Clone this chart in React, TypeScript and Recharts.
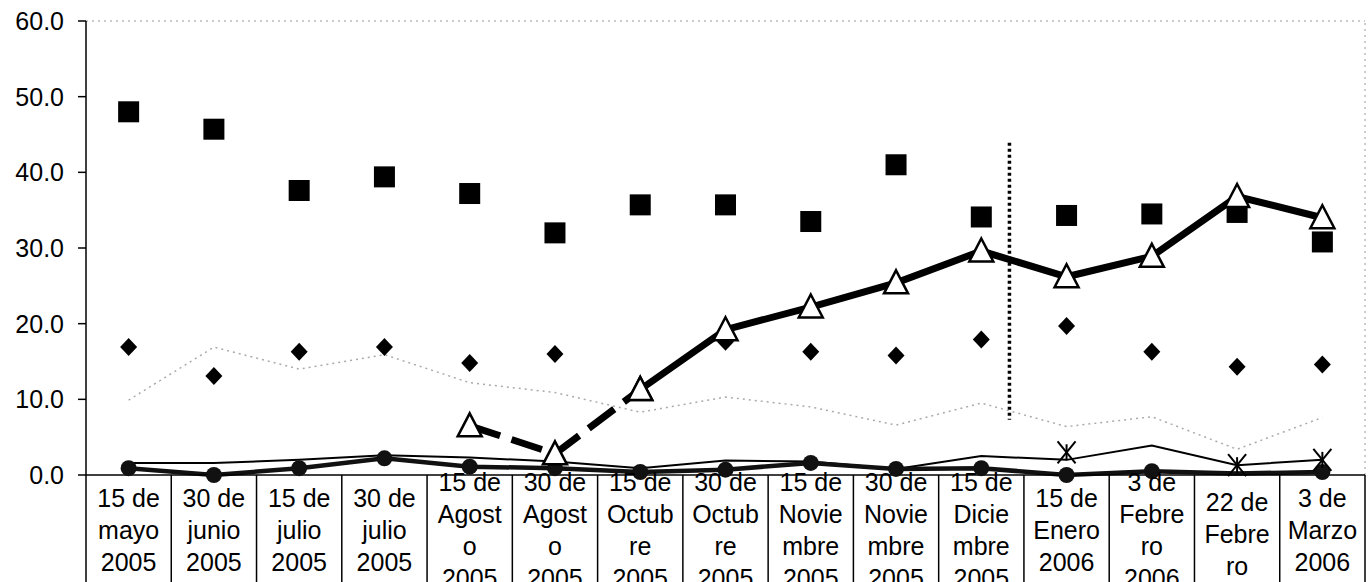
import React from "react";
import { LineChart, Line, XAxis, YAxis, ReferenceLine } from "recharts";

// tick labels, one entry per date (lines as printed in the cells)
const labels: string[][] = [
  ["15 de", "mayo", "2005"],
  ["30 de", "junio", "2005"],
  ["15 de", "julio", "2005"],
  ["30 de", "julio", "2005"],
  ["15 de", "Agost", "o", "2005"],
  ["30 de", "Agost", "o", "2005"],
  ["15 de", "Octub", "re", "2005"],
  ["30 de", "Octub", "re", "2005"],
  ["15 de", "Novie", "mbre", "2005"],
  ["30 de", "Novie", "mbre", "2005"],
  ["15 de", "Dicie", "mbre", "2005"],
  ["15 de", "Enero", "2006"],
  ["3 de", "Febre", "ro", "2006"],
  ["22 de", "Febre", "ro"],
  ["3 de", "Marzo", "2006"],
];

const squares = [48.0, 45.7, 37.6, 39.4, 37.2, 32.0, 35.7, 35.7, 33.5, 41.0, 34.1, 34.3, 34.5, 34.7, 30.8];
const diamonds = [16.9, 13.1, 16.3, 16.9, 14.8, 16.0, null, 17.6, 16.3, 15.8, 17.9, 19.7, 16.3, 14.3, 14.6];
const triangles = [null, null, null, null, 6.5, 2.8, 11.3, 19.2, 22.2, 25.4, 29.6, 26.2, 28.9, 36.8, 34.0];
const grayLine = [9.9, 16.9, 14.0, 15.9, 12.2, 10.9, 8.3, 10.3, 9.0, 6.6, 9.5, 6.4, 7.7, 3.4, 7.6];
const thinLine = [1.6, 1.6, 2.0, 2.6, 2.3, 1.8, 0.9, 1.9, 1.8, 0.8, 2.5, 2.0, 3.9, 1.3, 2.0];
const stars = [null, null, null, null, null, null, null, null, null, null, null, 3.0, null, 1.3, 2.0];
const circles = [0.9, 0.0, 0.9, 2.2, 1.1, 0.9, 0.4, 0.7, 1.6, 0.8, 0.9, 0.0, 0.5, 0.2, 0.4];
const circleNoMarker = [13];

// triangles drawn dashed up to this index, solid from it on
const dashedUntil = 6;
const yTicks = [0, 10, 20, 30, 40, 50, 60];
const divider = { x: 10.33, top: 43.9, bottom: 7.3 };

const data = labels.map((_, i) => ({
  i,
  sq: squares[i],
  di: diamonds[i],
  triDash: i <= dashedUntil ? triangles[i] : null,
  triSolid: i >= dashedUntil ? triangles[i] : null,
  gray: grayLine[i],
  thin: thinLine[i],
  star: stars[i],
  circ: circles[i],
}));

const W = 1370;
const H = 582;
const LEFT = 86;
const RIGHT = 5;
const AXIS_Y = 475;
const CELL = (W - LEFT - RIGHT) / labels.length;
const FONT = "'Liberation Sans', Arial, sans-serif";

const empty = (p: any) => p.cy == null || p.value == null || isNaN(p.cy);

const Square = (p: any) =>
  empty(p) ? <g key={p.key} /> : <rect key={p.key} x={p.cx - 10.5} y={p.cy - 10.5} width={21} height={21} fill="#000" />;

const Diamond = (p: any) =>
  empty(p) ? (
    <g key={p.key} />
  ) : (
    <polygon
      key={p.key}
      points={`${p.cx},${p.cy - 9} ${p.cx + 8.5},${p.cy} ${p.cx},${p.cy + 9} ${p.cx - 8.5},${p.cy}`}
      fill="#000"
    />
  );

const Triangle = (p: any) =>
  empty(p) ? (
    <g key={p.key} />
  ) : (
    <polygon
      key={p.key}
      points={`${p.cx},${p.cy - 12.5} ${p.cx + 12},${p.cy + 10.5} ${p.cx - 12},${p.cy + 10.5}`}
      fill="#fff"
      stroke="#000"
      strokeWidth={2.5}
    />
  );

const Circle = (p: any) =>
  empty(p) || circleNoMarker.includes(p.index) ? (
    <g key={p.key} />
  ) : (
    <circle key={p.key} cx={p.cx} cy={p.cy} r={8} fill="#111" />
  );

const Star = (p: any) =>
  empty(p) ? (
    <g key={p.key} />
  ) : (
    <g key={p.key} stroke="#000" strokeWidth={2}>
      <line x1={p.cx - 9} y1={p.cy - 11} x2={p.cx + 9} y2={p.cy + 11} />
      <line x1={p.cx + 9} y1={p.cy - 11} x2={p.cx - 9} y2={p.cy + 11} />
      <line x1={p.cx} y1={p.cy - 8} x2={p.cx} y2={p.cy + 8} />
    </g>
  );

const CellTick = (props: any) => {
  const { x, payload } = props;
  const idx = payload.value as number;
  const lines = labels[idx] || [];
  const n = lines.length;
  const mid = idx === 13 ? 534 : 530;
  return (
    <g>
      <line x1={x - CELL / 2} y1={AXIS_Y} x2={x - CELL / 2} y2={H} stroke="#000" strokeWidth={1.5} />
      {idx === labels.length - 1 && (
        <line x1={x + CELL / 2} y1={AXIS_Y} x2={x + CELL / 2} y2={H} stroke="#000" strokeWidth={1.5} />
      )}
      {lines.map((t, k) => (
        <text
          key={k}
          x={x}
          y={mid + (k - (n - 1) / 2) * 32 + 9}
          textAnchor="middle"
          fontSize={25}
          fontFamily={FONT}
          fill="#000"
        >
          {t}
        </text>
      ))}
    </g>
  );
};

export default function App() {
  return (
    <div style={{ position: "absolute", left: 0, top: 0, background: "#fff" }}>
      <LineChart width={W} height={H} data={data} margin={{ top: 21, right: RIGHT, left: 0, bottom: 0 }}>
        <XAxis
          dataKey="i"
          type="number"
          domain={[-0.5, labels.length - 0.5]}
          ticks={labels.map((_, i) => i)}
          interval={0}
          height={H - AXIS_Y}
          tickLine={false}
          tickSize={0}
          axisLine={{ stroke: "#000", strokeWidth: 1.5 }}
          tick={<CellTick />}
        />
        <YAxis
          domain={[0, 60]}
          ticks={yTicks}
          width={LEFT}
          tickSize={8}
          tickMargin={14}
          tickFormatter={(v: number) => v.toFixed(1)}
          axisLine={{ stroke: "#000", strokeWidth: 1.5 }}
          tickLine={{ stroke: "#000", strokeWidth: 1.5 }}
          tick={{ fill: "#000", fontSize: 25, fontFamily: FONT }}
        />
        <ReferenceLine y={60} stroke="#999" strokeDasharray="2 4" />
        <ReferenceLine x={labels.length - 0.5} stroke="#999" strokeDasharray="2 4" />
        <ReferenceLine
          segment={[
            { x: divider.x, y: divider.top },
            { x: divider.x, y: divider.bottom },
          ]}
          stroke="#000"
          strokeWidth={3.5}
          strokeDasharray="3 3"
        />
        <Line dataKey="gray" stroke="#aaa" strokeWidth={1.5} strokeDasharray="2 4" dot={false} isAnimationActive={false} />
        <Line dataKey="thin" stroke="#000" strokeWidth={2} dot={false} isAnimationActive={false} />
        <Line dataKey="circ" stroke="#111" strokeWidth={4.5} dot={Circle} isAnimationActive={false} />
        <Line dataKey="sq" stroke="none" dot={Square} isAnimationActive={false} />
        <Line dataKey="di" stroke="none" dot={Diamond} isAnimationActive={false} />
        <Line
          dataKey="triDash"
          stroke="#000"
          strokeWidth={7}
          strokeDasharray="32 12"
          dot={Triangle}
          isAnimationActive={false}
        />
        <Line dataKey="triSolid" stroke="#000" strokeWidth={7} dot={Triangle} isAnimationActive={false} />
        <Line dataKey="star" stroke="none" dot={Star} isAnimationActive={false} />
      </LineChart>
    </div>
  );
}
